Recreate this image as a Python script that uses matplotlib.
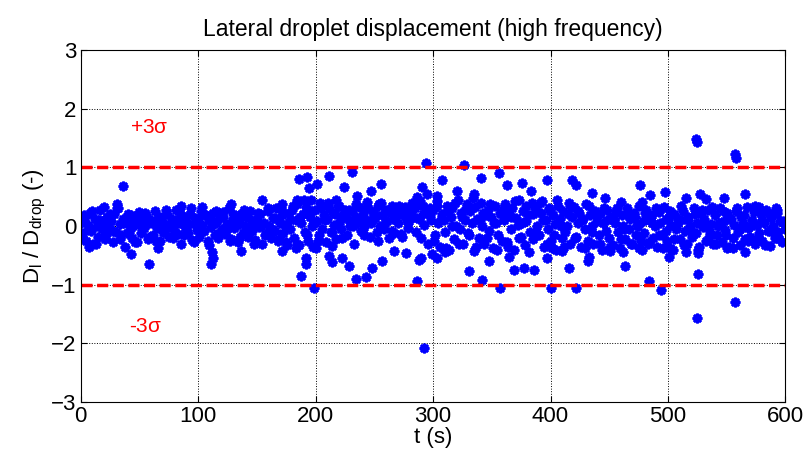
import matplotlib
matplotlib.use('Agg')
import matplotlib.pyplot as plt
import numpy as np

plt.rcParams['font.family'] = ['Liberation Sans', 'DejaVu Sans']
plt.rcParams['mathtext.default'] = 'regular'

# core band, sampled every 1.5 s
band_dt = 1.5
band_vals = [
    0.05, -0.12, 0.18, -0.25, 0.02, 0.22, -0.08, -0.3, 0.12, 0.0, -0.18, 0.27, -0.05, 0.1, -0.22, 0.15, -0.02, 0.08, -0.28, 0.2,
    -0.1, 0.3, 0.04, -0.15, 0.12, -0.35, 0.06, 0.2, -0.06, -0.2, 0.14, 0.02, -0.27, 0.24, -0.12, 0.09, -0.03, 0.18, -0.22, 0.05,
    0.1, -0.16, 0.26, -0.04, 0.07, -0.25, 0.16, -0.1, 0.03, 0.21, -0.19, 0.0, 0.12, -0.07, 0.28, -0.13, 0.05, -0.3, 0.17, -0.02,
    0.08, -0.11, 0.2, -0.24, 0.04, 0.14, -0.06, -0.18, 0.25, 0.01, -0.09, 0.19, -0.26, 0.11, -0.01, 0.22, -0.15, 0.06, -0.2, 0.13,
    -0.05, 0.24, -0.14, 0.03, 0.3, -0.22, 0.09, -0.04, 0.16, -0.28, 0.07, 0.2, -0.12, 0.0, 0.15, -0.19, 0.26, -0.08, 0.04, -0.23,
    0.12, -0.02, 0.2, -0.3, 0.06, -0.14, 0.25, 0.0, -0.2, 0.14, -0.08, 0.31, -0.26, 0.05, 0.18, -0.11, 0.02, -0.33, 0.22, -0.05,
    0.28, -0.2, 0.1, 0.38, -0.32, 0.05, 0.2, -0.1, 0.33, -0.25, 0.15, 0.0, -0.35, 0.27, 0.08, -0.15, 0.4, -0.05, 0.18, -0.28,
    0.12, 0.3, -0.1, 0.22, 0.02, -0.22, 0.35, 0.08, -0.05, 0.18, 0.28, -0.15, 0.1, 0.0, 0.25, -0.3, 0.15, 0.05, 0.32, -0.08,
    0.2, -0.02, 0.1, 0.3, -0.18, 0.06, 0.24, 0.14, -0.1, 0.35, 0.0, 0.18, -0.05, 0.28, 0.08, -0.2, 0.22, 0.12, -0.12, 0.3,
    0.05, 0.26, -0.14, 0.18, 0.32, 0.08, -0.04, 0.22, 0.4, 0.15, 0.3, 0.5, 0.12, -0.2, 0.35, 0.02, 0.25, -0.3, 0.18, 0.1,
    0.28, -0.15, 0.42, 0.05, -0.35, 0.2, 0.1, -0.1, 0.35, -0.4, 0.15, 0.3, -0.22, 0.0, 0.45, -0.05, 0.22, -0.3, 0.1, 0.38,
    -0.12, 0.25, 0.05, -0.42, 0.32, 0.12, -0.2, 0.4, 0.0, -0.3, 0.18, 0.28, -0.08, 0.15, -0.38, 0.35, 0.06, -0.15, 0.22, -0.25,
    0.1, 0.38, -0.28, 0.2, -0.05, 0.3, -0.4, 0.14, 0.02, 0.45, -0.18, 0.25, -0.32, 0.08, 0.18, -0.1, 0.4, -0.22, 0.3, 0.0,
    -0.15, 0.22, 0.42, -0.35, 0.1, -0.05, 0.3, -0.25, 0.18, 0.04, -0.4, 0.35, 0.12, -0.2, 0.26, -0.1, 0.0, 0.4, -0.3, 0.15,
    0.32, -0.18, 0.05, 0.22, -0.35, 0.12, -0.05, 0.38, -0.25, 0.18, 0.0, -0.3, 0.26, 0.08, -0.15, 0.2, -0.4, 0.3, -0.08, 0.1,
    -0.2, 0.15, -0.32, 0.05, 0.25, -0.1, -0.38, 0.18, 0.0, -0.22, 0.3, -0.05, 0.12, -0.3, 0.22, -0.15, 0.02, 0.35, -0.25, 0.08,
    -0.12, 0.28, -0.3, 0.1, 0.18, -0.2, 0.0, -0.35, 0.24, 0.06, -0.15, 0.32, -0.08, -0.26, 0.15, 0.02, -0.4, 0.2, -0.05, 0.12,
    -0.22, 0.1, 0.25, -0.08, -0.3, 0.16, 0.0, -0.18, 0.3, -0.12, 0.05, -0.35, 0.2, -0.02, 0.12, -0.25, 0.28, -0.1, 0.04, -0.3,
    0.18, -0.15, 0.0, 0.3, -0.28, 0.08, -0.06, 0.22, -0.35, 0.12, -0.2, 0.02, 0.26, -0.1, -0.32, 0.15, 0.05, -0.22, 0.32, -0.04,
    -0.18, 0.1, 0.24, -0.3, 0.02, -0.12, 0.2, -0.25, 0.06, 0.28, -0.08, -0.34, 0.14, 0.0, -0.2, 0.22, -0.1, 0.08, -0.28, 0.05,
]

# extra band samples in between (every 3 s, starting at 0.75 s)
band2_t0 = 0.75
band2_dt = 3.0
band2_vals = [
    -0.2, 0.16, -0.05, 0.25, -0.3, 0.1, 0.0, -0.15, 0.2, -0.08, 0.3, -0.22, 0.06, -0.12, 0.18, -0.28, 0.12, -0.02, 0.22, -0.18,
    0.05, -0.25, 0.15, -0.1, 0.28, -0.02, -0.2, 0.1, 0.22, -0.15, 0.0, 0.3, -0.28, 0.12, -0.06, 0.18, -0.32, 0.08, 0.25, -0.12,
    0.16, -0.08, -0.25, 0.2, 0.02, -0.18, 0.28, -0.1, 0.1, -0.3, 0.22, 0.0, -0.15, 0.3, -0.05, 0.14, -0.22, 0.26, -0.28, 0.1,
    0.35, -0.3, 0.15, 0.45, -0.15, 0.25, 0.05, -0.25, 0.3, 0.1, 0.4, -0.1, 0.2, 0.35, -0.2, 0.15, 0.28, 0.0, 0.38, 0.12,
    -0.15, 0.32, 0.1, 0.2, -0.25, 0.4, 0.05, 0.25, -0.08, 0.15, 0.35, -0.18, 0.22, 0.08, 0.3, -0.1, 0.42, 0.2, 0.55, 0.3,
    -0.25, 0.35, 0.12, -0.45, 0.25, 0.0, 0.4, -0.3, 0.15, 0.3, -0.15, 0.48, -0.35, 0.1, 0.22, -0.2, 0.38, 0.05, -0.4, 0.2,
    0.3, -0.35, 0.15, 0.42, -0.2, 0.05, 0.35, -0.45, 0.2, -0.1, 0.4, 0.1, -0.3, 0.25, -0.15, 0.45, 0.0, -0.35, 0.2, 0.32,
    -0.2, 0.25, 0.1, -0.38, 0.35, -0.1, 0.18, -0.3, 0.05, 0.28, -0.35, 0.12, 0.3, -0.22, -0.05, 0.2, -0.3, 0.15, 0.0, -0.4,
    0.22, -0.28, 0.05, 0.3, -0.15, -0.38, 0.12, 0.25, -0.22, 0.02, 0.35, -0.32, 0.1, -0.08, 0.2, -0.4, 0.28, 0.0, -0.18, 0.32,
    -0.3, 0.05, 0.25, -0.15, 0.12, -0.38, 0.3, -0.05, 0.18, -0.25, 0.0, 0.35, -0.2, 0.1, -0.32, 0.22, -0.1, 0.3, -0.22, 0.08,
]

# scattered excursions
out_t = [35.6, 58, 31, 42.5, 85, 127.7, 112, 113, 111, 136, 103.5, 7, 20, 66, 600,
         185.8, 193, 194, 201.4, 211.3, 231.2, 224, 255.3, 246.8, 235.5, 154.6, 171.6, 184.4, 196, 217,
         244, 254, 265.3, 290.8, 171.6, 183, 191.5, 192, 187.2, 198.6, 200, 211.3, 214, 214, 222.7,
         228.4, 234, 242.5, 248.2, 256.8, 266.6, 276.6, 288, 286.5,
         293.6, 326, 307.8, 340.4, 356, 363, 376, 397, 418.5, 422, 320.6, 334.7, 303.6, 383, 435.5,
         289.4, 299.3, 303, 310.6, 330.5, 341.9, 357.4, 347.5, 364.5, 368.8, 377.3, 385.8, 397.2, 400,
         401, 410, 415.6, 421.3, 432.6, 432, 292,
         524, 525, 557.4, 558, 476, 485, 497.9, 515.7, 527.7, 532, 547.5, 566, 446.8, 459.6, 478, 577.3, 593,
         463.8, 451, 462, 483.7, 494, 500.7, 502, 515.7, 525.7, 525.7, 524.8, 557.4, 550.4, 566, 475]
out_v = [0.68, -0.64, 0.38, -0.48, 0.35, 0.37, -0.45, -0.55, -0.65, -0.43, 0.32, -0.35, 0.32, -0.38, -0.05,
         0.81, 0.83, 0.65, 0.72, 0.86, 0.92, 0.66, 0.72, 0.6, 0.52, 0.44, 0.38, 0.44, 0.44, 0.44,
         0.41, 0.38, 0.35, 0.66, -0.43, -0.37, -0.54, -0.65, -0.85, -1.05, -0.37, -0.51, -0.34, -0.62, -0.55,
         -0.68, -0.91, -0.86, -0.71, -0.6, -0.43, -0.46, -0.57, -0.94,
         1.07, 1.04, 0.79, 0.82, 0.9, 0.7, 0.73, 0.79, 0.79, 0.7, 0.59, 0.55, 0.52, 0.59, 0.56,
         -0.54, -0.48, -0.54, -0.37, -0.77, -0.92, -1.06, -0.6, -0.52, -0.75, -0.71, -0.75, -0.55, -1.06,
         -0.37, -0.43, -0.71, -1.06, -0.52, -0.6, -2.08,
         1.48, 1.44, 1.22, 1.16, 0.7, 0.53, 0.58, 0.48, 0.55, 0.46, 0.47, 0.55, 0.48, 0.41, 0.41, 0.33, 0.27,
         -0.68, -0.42, -0.44, -0.94, -1.09, -0.52, -0.37, -0.45, -0.46, -0.82, -1.56, -1.3, -0.38, -0.45, -0.38]

sigma3 = 1.0

band_t = np.arange(len(band_vals)) * band_dt
band2_t = band2_t0 + np.arange(len(band2_vals)) * band2_dt
t = np.concatenate([band_t, band2_t, out_t])
d = np.concatenate([band_vals, band2_vals, out_v])

fig = plt.figure(figsize=(8.08, 4.59), dpi=100)
ax = fig.add_axes([0.100, 0.124, 0.872, 0.767])

ax.plot(t, d, ls='none', marker=(8, 2, 0), ms=7, mew=1.9, color='#0000ff')
ax.plot([0, 600], [sigma3, sigma3], color='red', lw=2.5, ls=(0, (3.2, 1.3)))
ax.plot([0, 600], [-sigma3, -sigma3], color='red', lw=2.5, ls=(0, (3.2, 1.3)))

ax.text(42, 1.68, r'+3$\sigma$', color='red', fontsize=15, va='center')
ax.text(41, -1.72, r'-3$\sigma$', color='red', fontsize=15, va='center')

ax.set_xlim(0, 600)
ax.set_ylim(-3, 3)
ax.set_xticks(range(0, 601, 100))
ax.set_yticks(range(-3, 4))
ax.grid(True, color='black', ls=':', lw=0.7)
ax.tick_params(direction='in', top=True, right=True, labelsize=16, length=4, pad=3)
ax.set_title('Lateral droplet displacement (high frequency)', fontsize=16.5, pad=10)
ax.set_xlabel('t (s)', fontsize=16, labelpad=0)
ax.set_ylabel('D$_l$ / D$_{drop}$ (-)', fontsize=16, labelpad=2)

fig.savefig('out.png', dpi=100)
